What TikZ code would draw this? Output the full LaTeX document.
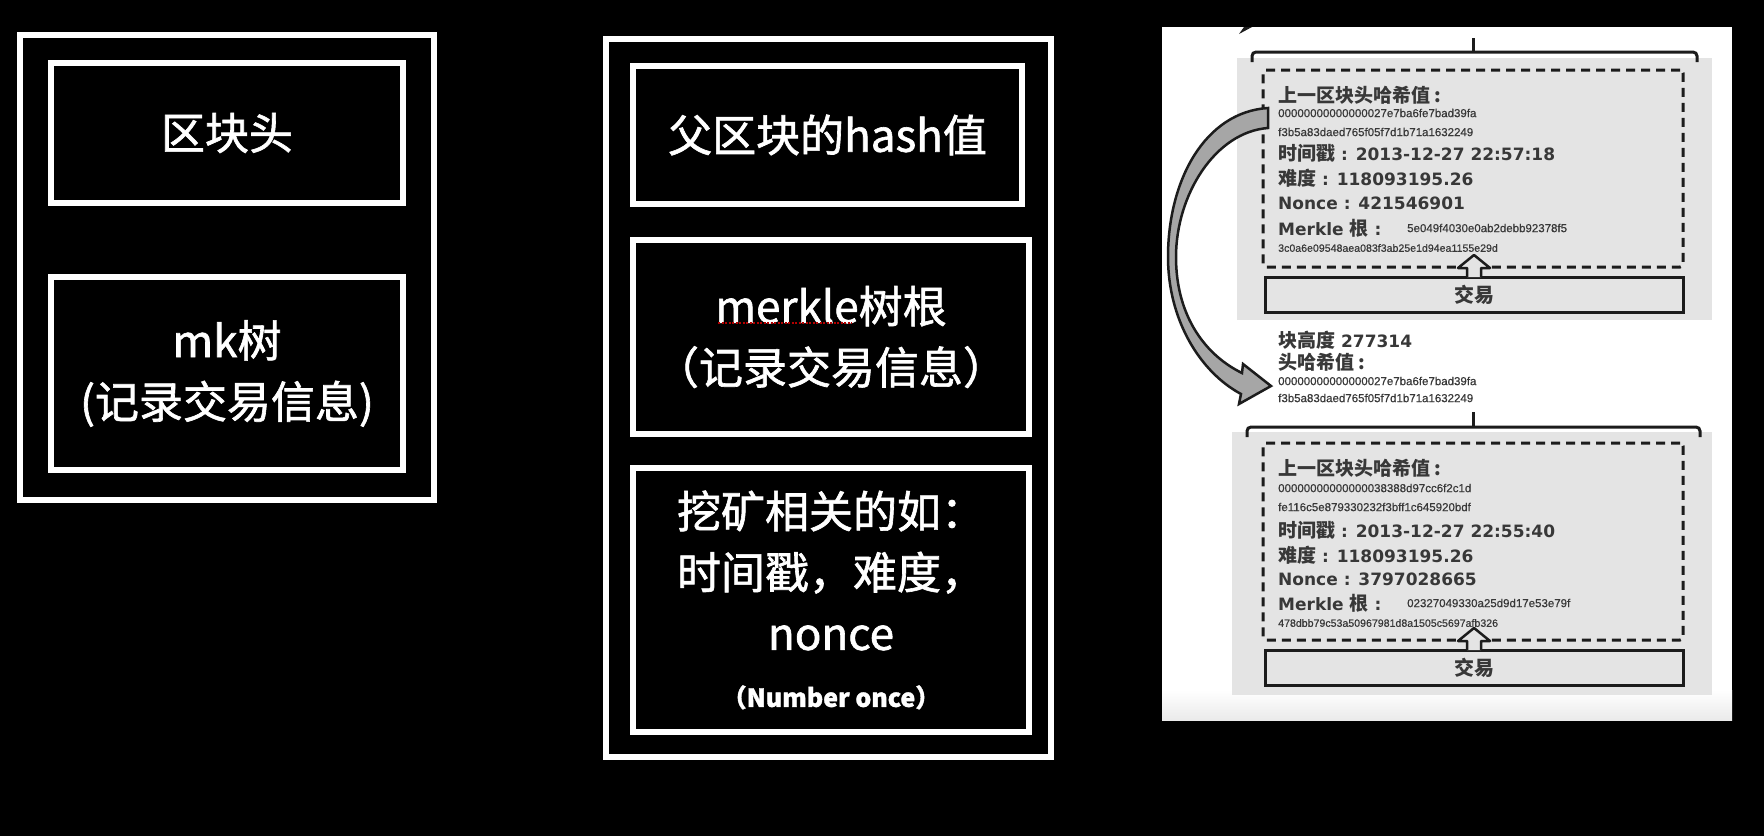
\documentclass[tikz,border=0pt]{standalone}
\usepackage{fontspec}
\usepackage{tikz}
\usetikzlibrary{arrows,positioning}
\newfontfamily\cjk{Noto Sans CJK SC}
\newfontfamily\cjkmed[FakeBold=1.4]{Noto Sans CJK SC}
\newfontfamily\dvs{DejaVu Sans}
\newfontfamily\hashfont[FakeBold=0.6]{Liberation Sans}
\definecolor{txtgray}{HTML}{383838}
\definecolor{blockgray}{HTML}{E4E4E4}
\definecolor{linegray}{HTML}{1C1C1C}
\definecolor{arrowgray}{HTML}{A6A6A6}
\newcommand{\zh}[1]{{\cjk\bfseries\fontsize{19}{20}\selectfont #1}}

\begin{document}
\begin{tikzpicture}[x=1pt,y=-1pt,
                    frame/.style={draw=white,line width=6,outer sep=0,inner sep=0},
                    field/.style={frame,text=white,align=center,
                                  font=\cjkmed\fontsize{44}{61}\selectfont},
                    dashbox/.style={draw=linegray,line width=3,dash pattern=on 9pt off 6pt,
                                    rounded corners=3,outer sep=0},
                    txbox/.style={draw=linegray,line width=3,fill=blockgray,outer sep=0,
                                  text=txtgray,font=\cjk\bfseries\fontsize{20}{22}\selectfont},
                    upblock/.style={draw=linegray,line width=2.5,fill=blockgray,line join=round},
                    bracket/.style={draw=linegray,line width=3,rounded corners=4},
                    zhline/.style={anchor=west,inner sep=0,text=txtgray,
                                   font=\cjk\bfseries\fontsize{19}{20}\selectfont},
                    infoline/.style={anchor=west,inner sep=0,text=txtgray,
                                     font=\dvs\bfseries\fontsize{17}{20}\selectfont},
                    hashline/.style={anchor=west,inner sep=0,text=txtgray,
                                     font=\hashfont\fontsize{11.5}{12}\selectfont},
                    bigarrow/.style={draw=linegray,line width=2.5,fill=arrowgray,line join=miter}]

  \fill[black] (0,0) rectangle (1764,836);
  \useasboundingbox (0,0) rectangle (1764,836);

  % left: block = header + mk tree
  \node[frame,minimum width=414,minimum height=465] (leftframe) at (227,267.5) {};
  \node[field,minimum width=352,minimum height=140] (head) at (227,133) {区块头};
  \node[field,minimum width=352,minimum height=193] (mktree) [below=74pt of head]
        {mk树\\(记录交易信息)};

  % middle: what the header holds
  \node[frame,minimum width=445,minimum height=718] (midframe) at (828,398) {};
  \node[field,minimum width=389,minimum height=138] (parenthash) at (827.5,135) {父区块的hash值};
  \node[field,minimum width=396,minimum height=194] (merkleroot) at (831,337)
        {merkle树根\\（记录交易信息）};
  \node[field,minimum width=396,minimum height=264] (mining) at (831,600)
        {挖矿相关的如：\\时间戳，难度，\\nonce\\[-4pt]{\bfseries\fontsize{25}{30}\selectfont （Number once）}};
  \draw[red!70!black,line width=1.6,dash pattern=on 2pt off 1.5pt] (718,323) -- (852,323);

  % right: picture of two chained blocks
  \fill[white] (1162,27) rectangle (1732,720);
  \shade[top color=white,bottom color=black!8] (1162,690) rectangle (1732,720);
  \fill[linegray] (1239,34) -- (1252,27) -- (1244,27) -- cycle;

  \fill[blockgray] (1237,58) rectangle (1712,320);
  \fill[blockgray] (1232,432) rectangle (1712,695);

  \draw[bracket] (1252,62) |- (1697,52) -- (1697,62);
  \draw[bracket] (1473,52) -- (1473,38);
  \draw[bracket] (1247,437) |- (1700,427) -- (1700,437);
  \draw[bracket] (1473,427) -- (1473,412);

  \node[dashbox,minimum width=420,minimum height=197] (hdrA) at (1473,168.5) {};
  \node[txbox,minimum width=418,minimum height=35] (txA) at (1474,294.5) {交易};
  \node[dashbox,minimum width=420,minimum height=197] (hdrB) at (1473,541.5) {};
  \node[txbox,minimum width=418,minimum height=35] (txB) at (1474,667.5) {交易};

  \draw[upblock] ([xshift=-7pt]txA.north) -- ++(0,-9) -- ++(-9,0) -- ++(16,-13)
        -- ++(16,13) -- ++(-9,0) -- ++(0,9);
  \draw[upblock] ([xshift=-7pt]txB.north) -- ++(0,-9) -- ++(-9,0) -- ++(16,-13)
        -- ++(16,13) -- ++(-9,0) -- ++(0,9);

  \node[zhline] (preA) at (1278,95) {上一区块头哈希值 :};
  \node[hashline] (preA1) at (1278,113) {00000000000000027e7ba6fe7bad39fa};
  \node[hashline] (preA2) at (1278,132) {f3b5a83daed765f05f7d1b71a1632249};
  \node[infoline] (timeA) at (1278,153) {\zh{时间戳} : 2013-12-27 22:57:18};
  \node[infoline] (diffA) at (1278,178) {\zh{难度} : 118093195.26};
  \node[infoline] (nonceA) at (1278,203) {Nonce : 421546901};
  \node[infoline] (rootA) at (1278,228) {Merkle \zh{根} :};
  \node[hashline] (rootA1) at (1407,228) {5e049f4030e0ab2debb92378f5};
  \node[hashline,font=\hashfont\fontsize{10.6}{12}\selectfont] (rootA2) at (1278,248)
        {3c0a6e09548aea083f3ab25e1d94ea1155e29d};

  \node[infoline] (heightB) at (1278,340) {\zh{块高度} 277314};
  \node[zhline] (hashB) at (1278,362) {头哈希值 :};
  \node[hashline] (hashB1) at (1278,381) {00000000000000027e7ba6fe7bad39fa};
  \node[hashline] (hashB2) at (1278,398) {f3b5a83daed765f05f7d1b71a1632249};

  \node[zhline] (preB) at (1278,468) {上一区块头哈希值 :};
  \node[hashline] (preB1) at (1278,488) {00000000000000038388d97cc6f2c1d};
  \node[hashline] (preB2) at (1278,507) {fe116c5e879330232f3bff1c645920bdf};
  \node[infoline] (timeB) at (1278,530) {\zh{时间戳} : 2013-12-27 22:55:40};
  \node[infoline] (diffB) at (1278,555) {\zh{难度} : 118093195.26};
  \node[infoline] (nonceB) at (1278,579) {Nonce : 3797028665};
  \node[infoline] (rootB) at (1278,603) {Merkle \zh{根} :};
  \node[hashline] (rootB1) at (1407,603) {02327049330a25d9d17e53e79f};
  \node[hashline,font=\hashfont\fontsize{10.6}{12}\selectfont] (rootB2) at (1278,623)
        {478dbb79c53a50967981d8a1505c5697afb326};

  % big bent arrow: prev hash of the upper block -> header hash below
  \filldraw[bigarrow] (1268,108)
        .. controls (1205,112) and (1168,180) .. (1168,257)
        .. controls (1168,320) and (1200,372) .. (1241,394)
        -- (1239,404) -- (1271,386) -- (1243,364) -- (1242,373)
        .. controls (1207,356) and (1176,318) .. (1176,257)
        .. controls (1176,195) and (1215,132) .. (1268,128) -- cycle;

\end{tikzpicture}
\end{document}
